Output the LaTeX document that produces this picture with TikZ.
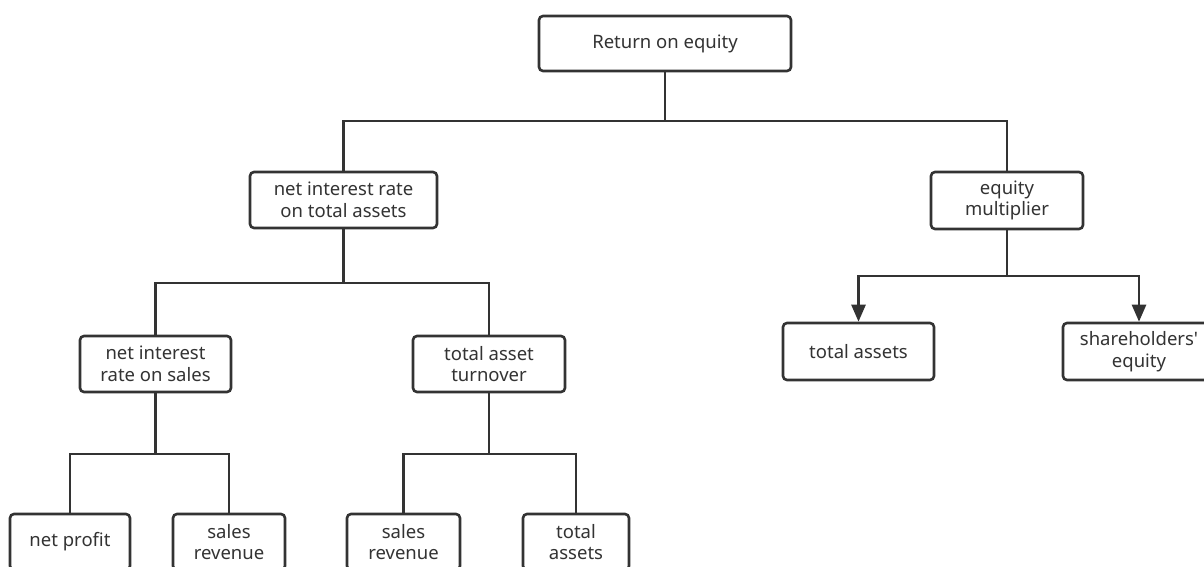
\documentclass[tikz,border=0pt]{standalone}
\usepackage{fontspec}
\setmainfont{Noto Sans}
\newfontfamily\plainfont{Noto Sans}
\usetikzlibrary{arrows.meta}
\definecolor{ln}{HTML}{333333}
\definecolor{tx}{HTML}{333333}
\begin{document}
\begin{tikzpicture}[x=1pt,y=-1pt,
  box/.style={draw=ln, line width=2.6pt, rounded corners=4pt, fill=white, text=tx,
    align=center, inner sep=0pt, font=\fontsize{18.5}{21.5}\selectfont},
  conn/.style={draw=ln, line width=2.6pt},
  arr/.style={conn, -{Triangle[length=17pt,width=14pt]}}]
\useasboundingbox (0,0) rectangle (1204,567);
\begin{scope}
\clip (0,0) rectangle (1204,567);
% nodes
\node[box, minimum width=252pt, minimum height=55pt] (root) at (665,43.5) {Return on equity};
\node[box, minimum width=187pt, minimum height=56pt] (nta) at (343.5,200) {net interest rate\\on total assets};
\node[box, minimum width=152pt, minimum height=57pt] (em) at (1007,200.5) {equity\\multiplier};
\node[box, minimum width=151pt, minimum height=56pt] (nrs) at (155.5,364) {net interest\\rate on sales};
\node[box, minimum width=152pt, minimum height=56pt] (tat) at (489,364) {total asset\\turnover};
\node[box, minimum width=151pt, minimum height=57pt] (ta1) at (858.5,351.5) {total assets};
\node[box, minimum width=152pt, minimum height=57pt] (se) at (1139,351.5) {{\plainfont shareholders'}\\equity};
\node[box, minimum width=120pt, minimum height=56pt] (np) at (70,542) {net profit};
\node[box, minimum width=112pt, minimum height=56pt] (sr1) at (229,542) {sales\\revenue};
\node[box, minimum width=113pt, minimum height=56pt] (sr2) at (403.5,542) {sales\\revenue};
\node[box, minimum width=106pt, minimum height=56pt] (ta2) at (576,542) {total\\assets};
% junctions
\coordinate (j1) at (665,121);
\coordinate (j2) at (343.5,283);
\coordinate (j3) at (1007,276);
\coordinate (j4) at (155.5,454);
\coordinate (j5) at (489,454);
% connectors
\draw[conn] (root.south) -- (j1) -| (nta.north);
\draw[conn] (j1) -| (em.north);
\draw[conn] (nta.south) -- (j2) -| (nrs.north);
\draw[conn] (j2) -| (tat.north);
\draw[conn] (em.south) -- (j3);
\draw[arr] (j3) -| (ta1.north);
\draw[arr] (j3) -| (se.north);
\draw[conn] (nrs.south) -- (j4) -| (np.north);
\draw[conn] (j4) -| (sr1.north);
\draw[conn] (tat.south) -- (j5) -| (sr2.north);
\draw[conn] (j5) -| (ta2.north);
\end{scope}
\end{tikzpicture}
\end{document}
